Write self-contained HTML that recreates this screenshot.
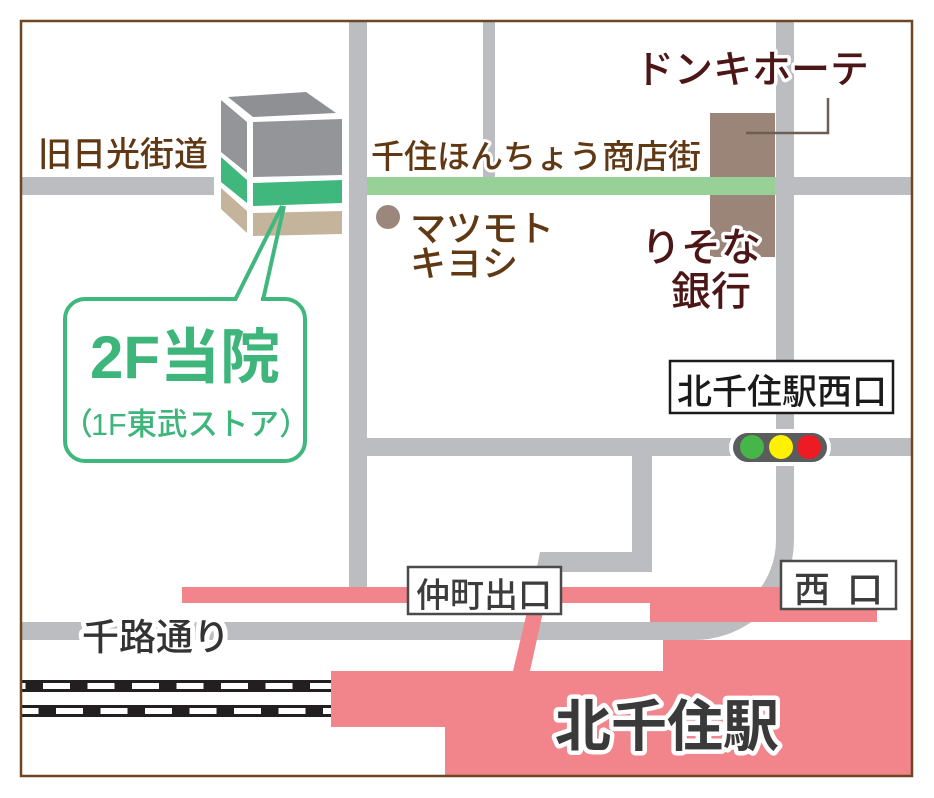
<!DOCTYPE html>
<html><head><meta charset="utf-8"><style>
html,body{margin:0;padding:0;background:#fff;}
svg{display:block;}
text{font-family:"Liberation Sans","Noto Sans CJK JP",sans-serif;}
.h{paint-order:stroke;stroke:#fff;stroke-linejoin:round;}
.m{font-weight:500;}
</style></head><body>
<svg width="934" height="798" viewBox="0 0 934 798" xmlns="http://www.w3.org/2000/svg">
<rect width="934" height="798" fill="#fff"/>
<!-- roads -->
<g fill="#bcbdc0">
<rect x="21" y="177" width="193" height="18"/>
<rect x="349" y="21" width="18" height="566"/>
<rect x="483" y="21" width="12" height="156"/>
<rect x="775" y="177" width="137" height="18"/>
<rect x="367" y="438" width="545" height="18"/>
<rect x="632" y="456" width="20" height="116"/>
<polygon points="540,552 652,552 652,572 536,572"/>
</g>
<path d="M21 631 H694 A91 91 0 0 0 785 540 V21" stroke="#bcbdc0" stroke-width="18" fill="none"/>
<!-- brown building -->
<rect x="710" y="113" width="65" height="144" fill="#9b8579"/>
<!-- green shopping street -->
<rect x="367" y="177" width="408" height="18" fill="#97d197"/>
<!-- pink -->
<g fill="#f2848b">
<rect x="182" y="587" width="468" height="16"/>
<rect x="650" y="587" width="227" height="35"/>
<polygon points="527,612 543,612 530,671 513,671"/>
<polygon points="331,671 663,671 663,640 912,640 912,776 445,776 445,727 331,727"/>
</g>
<!-- railroad -->
<rect x="21" y="680" width="310" height="12" fill="#231f20"/>
<rect x="21" y="705" width="310" height="12" fill="#231f20"/>
<line x1="21" y1="686" x2="331" y2="686" stroke="#fff" stroke-width="6" stroke-dasharray="27 17.5" stroke-dashoffset="22.5"/>
<line x1="21" y1="711" x2="331" y2="711" stroke="#fff" stroke-width="6" stroke-dasharray="27 17.5" stroke-dashoffset="9.5"/>
<!-- cube building -->
<polygon points="228,97 306,92 336,113 253,117" fill="#8e9093"/>
<polygon points="221,100 247,122 247,173 221,152" fill="#939598"/>
<polygon points="253,122 342,119 342,175 253,177" fill="#939598"/>
<polygon points="221,157 247,180 247,203 221,182" fill="#40b77d"/>
<polygon points="253,183 342,180 342,203 253,206" fill="#40b77d"/>
<polygon points="221,188 247,211 247,233 221,209" fill="#c4b49b"/>
<polygon points="253,213 342,211 342,234 253,236" fill="#c4b49b"/>
<!-- callout -->
<rect x="65" y="299" width="240" height="162" rx="20" ry="20" fill="#fff" stroke="#40b77d" stroke-width="4"/>
<rect x="237" y="296" width="24" height="6" fill="#fff"/>
<line x1="235" y1="300" x2="282" y2="206" stroke="#40b77d" stroke-width="4"/>
<line x1="263" y1="300" x2="284" y2="206" stroke="#40b77d" stroke-width="4"/>
<text x="90" y="378" font-size="60" font-weight="bold" fill="#3db57b" textLength="190" lengthAdjust="spacingAndGlyphs">2F当院</text>
<text class="m" x="62" y="435" font-size="31" fill="#3db57b">（</text>
<text class="m" x="91" y="435" font-size="31" fill="#3db57b" textLength="188" lengthAdjust="spacingAndGlyphs">1F東武ストア</text>
<text class="m" x="279" y="435" font-size="31" fill="#3db57b">）</text>
<!-- leader line & dot -->
<polyline points="746,133 828,133 828,98" fill="none" stroke="#6d5d52" stroke-width="2.5"/>
<circle cx="388" cy="217" r="12" fill="#9b877b"/>
<!-- labels -->
<text class="h m" x="38" y="166" font-size="34" fill="#603813" stroke-width="5">旧日光街道</text>
<text class="h m" x="371" y="168" font-size="33" fill="#603813" stroke-width="6">千住ほんちょう商店街</text>
<text class="h m" x="410" y="241" font-size="36" fill="#603813" stroke-width="5">マツモト</text>
<text class="h m" x="410" y="276" font-size="36" fill="#603813" stroke-width="5">キヨシ</text>
<text class="h m" x="635" y="83" font-size="39" fill="#4d1616" stroke-width="7">ドンキホーテ</text>
<text class="h m" x="641" y="261" font-size="40" fill="#4d1616" stroke-width="7">りそな</text>
<text class="h m" x="671" y="305" font-size="40" fill="#4d1616" stroke-width="7">銀行</text>
<!-- 北千住駅西口 box -->
<rect x="670" y="361" width="223" height="52" fill="#fff" stroke="#1a1a1a" stroke-width="2.5"/>
<text class="m" x="677" y="404" font-size="35" fill="#1a1a1a">北千住駅西口</text>
<!-- traffic light -->
<rect x="729" y="429" width="102" height="37" rx="18.5" fill="#fff"/>
<rect x="733" y="433" width="94" height="29" rx="14.5" fill="#5b5c5e"/>
<circle cx="752" cy="447" r="12" fill="#46b648"/>
<circle cx="781" cy="447" r="12" fill="#fff100"/>
<circle cx="809" cy="447" r="12" fill="#ed1c24"/>
<!-- 仲町出口 -->
<rect x="408" y="567" width="153" height="47" fill="#fff" stroke="#4a4a4a" stroke-width="2.5"/>
<text class="m" x="416" y="607" font-size="34" fill="#3c3c3c">仲町出口</text>
<!-- 西口 -->
<rect x="781" y="561" width="115" height="48" fill="#fff" stroke="#4a4a4a" stroke-width="2.5"/>
<text class="m" x="794" y="602" font-size="36" fill="#3c3c3c">西</text>
<text class="m" x="847" y="602" font-size="36" fill="#3c3c3c">口</text>
<!-- 千路通り -->
<text class="h m" x="82" y="650" font-size="37" fill="#333" stroke-width="10">千路通り</text>
<!-- 北千住駅 -->
<text class="h" x="555" y="746" font-size="56" font-weight="bold" fill="#3a3a3a" stroke-width="9">北千住駅</text>
<!-- frame -->
<rect x="21" y="21" width="891" height="755" fill="none" stroke="#6e4622" stroke-width="2.5"/>
</svg>
</body></html>
